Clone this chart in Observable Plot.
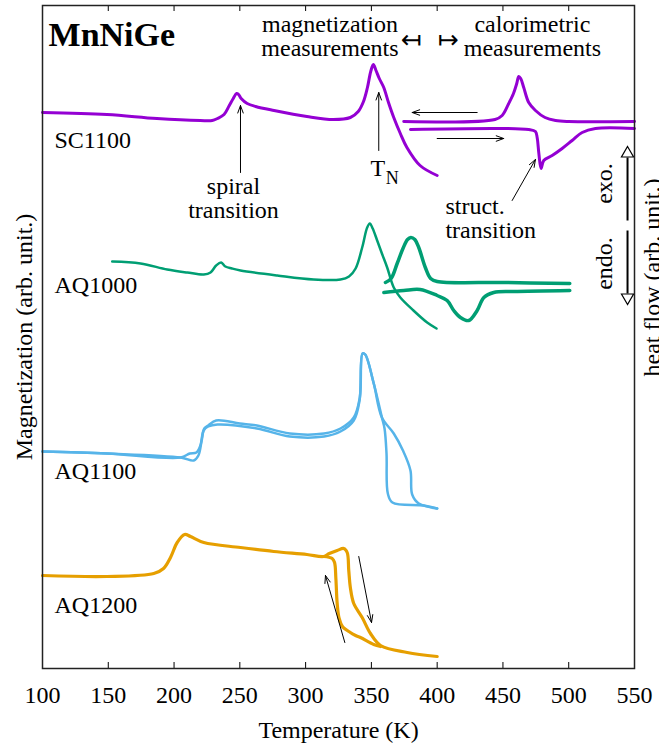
<!DOCTYPE html>
<html>
<head>
<meta charset="utf-8">
<script src="https://cdn.jsdelivr.net/npm/d3@7"></script>
<script src="https://cdn.jsdelivr.net/npm/@observablehq/plot@0.6"></script>
<style>
  body { margin: 0; background: #fff; }
</style>
</head>
<body>
<div id="chart"></div>
<script>
// ---------- data (temperature in K, magnetization / heat flow in arb. units) ----------
const xTicks = [100, 150, 200, 250, 300, 350, 400, 450, 500, 550];

// SC1100 magnetization
const sc1100T = [100, 149, 187, 220, 229, 233, 238, 242, 245, 247.5, 249, 251, 255.6, 262, 276, 301, 321, 334, 340, 344, 347, 349.5, 351.5, 353.5, 356, 359.4, 363, 367, 372, 377, 387, 400];
const sc1100M = [556, 554, 550, 548, 548, 550, 554, 563, 570, 575, 574, 570, 565, 562, 558, 552, 549, 551, 557, 567, 581, 597, 604, 598, 590, 581, 566, 551, 535, 521, 503, 493];
// SC1100 calorimetric (cooling / heating)
const sc1100CoolT = [374.6, 444, 449.4, 454.4, 458, 460.5, 462, 463.5, 465.8, 469.6, 474.7, 482, 490, 500, 550];
const sc1100CoolH = [547, 549, 553, 565, 575, 585, 592, 590, 581, 566, 558, 551, 548, 547, 547];
const sc1100HeatT = [379.7, 469.6, 474.7, 476, 477.3, 479, 481, 487.4, 495, 502.6, 510.2, 520.3, 550];
const sc1100HeatH = [539, 539, 537, 531, 515, 500, 508, 513, 520, 528, 536, 540, 540];

// AQ1000 magnetization
const aq1000T = [153, 174.5, 194.8, 210, 222.6, 227.7, 232, 235.8, 239, 244, 250.5, 278.4, 306, 326.5, 333, 338, 343, 346.8, 348.8, 351, 354.4, 358, 362, 367, 372, 382, 392.4, 399.5];
const aq1000M = [407, 405, 399, 396, 394, 396, 403, 406, 402, 400, 398, 393, 389, 389, 392, 400, 421, 441, 445, 440, 428, 415, 401, 381, 371, 358, 346, 340];
// AQ1000 calorimetric
const aq1000UpT = [360.7, 365, 369.6, 374, 377.5, 380, 383, 386, 391, 395, 400, 450, 500.8];
const aq1000UpH = [386, 390, 405, 420, 429, 431, 429, 421, 401, 390, 387, 386, 385];
const aq1000DnT = [359.5, 374.6, 387, 400, 407.6, 412.6, 417.7, 424, 430.4, 435.5, 443, 458, 500.8];
const aq1000DnH = [376, 378, 379, 373, 368, 358, 351, 348, 358, 371, 376, 377, 378];

// AQ1100 magnetization (heating / cooling)
const aq1100HeatT = [100, 149, 205, 215, 218.5, 221, 223, 226, 232, 250, 263, 288, 314, 326.5, 336.6, 341.2, 343.3, 345.3, 351.8, 358, 367, 374, 379.7, 381, 386, 400];
const aq1100HeatM = [217, 215, 211, 208, 213, 228, 240, 243, 248, 245, 243, 235, 235, 240, 251, 271, 315, 314, 285, 251, 235, 218, 198, 174, 165, 160];
const aq1100CoolT = [400, 390, 366, 362.5, 361.5, 360, 358, 351.8, 345.3, 343.3, 341, 336.6, 326.5, 314, 288, 263, 233, 226, 222.5, 220, 217, 212, 205, 149, 100];
const aq1100CoolM = [160, 163, 166, 175, 215, 240, 251, 285, 314, 315, 268, 248, 237, 232, 232, 240, 244, 242, 238, 223, 216, 215, 211, 215, 217];

// AQ1200 magnetization (heating / cooling)
const aq1200HeatT = [100, 149, 184.6, 192, 197.3, 202.4, 208, 212.5, 222.6, 250.5, 275.8, 301, 313.8, 318, 324, 329, 331.6, 332.8, 334, 336.6, 343, 349.3, 357, 377.2, 400];
const aq1200HeatM = [93, 92, 95, 100, 111, 126, 134, 132, 126, 121, 117, 114, 112, 115, 118, 120, 116, 98, 81, 65, 51, 35, 23, 16, 12];
const aq1200CoolT = [313.8, 320.2, 322, 323, 324, 325.5, 328, 334, 338, 341.7, 351.8, 357];
const aq1200CoolM = [112, 110, 106, 90, 65, 50, 42, 36, 33, 31, 24, 22];

// annotation arrows (x1, y1) -> (x2, y2)
const arrowX1 = [250.5, 355.6, 457, 430.4, 400, 329.8, 340.4];
const arrowY1 = [496, 518, 468, 556, 530, 26, 112];
const arrowX2 = [250.5, 355.6, 474.7, 381, 450.6, 315.1, 350.1];
const arrowY2 = [563, 576, 509, 556, 530, 93, 46];

// sample labels
const sampleNames = ["SC1100", "AQ1000", "AQ1100", "AQ1200"];
const sampleT = [109.1, 109.1, 109.1, 109.1];
const sampleM = [521, 376, 190, 56];

// colours
const cPurple = "#9400d3", cGreen = "#009e73", cBlue = "#56b4e9", cOrange = "#e69f00";
const SERIF = '"Liberation Serif", "Times New Roman", Times, serif';

// ---------- build ----------
const zip = (T, V) => T.map((t, i) => ({t, v: V[i]}));
const arrows = arrowX1.map((x1, i) => ({x1, y1: arrowY1[i], x2: arrowX2[i], y2: arrowY2[i]}));
const samples = sampleNames.map((n, i) => ({n, t: sampleT[i], v: sampleM[i]}));
const line = (T, V, stroke, w) => Plot.line(zip(T, V), {x: "t", y: "v", stroke, strokeWidth: w, curve: "catmull-rom", strokeLinejoin: "round", strokeLinecap: "round"});
const txt = (s, x, y, o = {}) => Plot.text([s], {x: [x], y: [y], text: d => d, fontSize: 24, fontFamily: SERIF, lineAnchor: "bottom", ...o});

const FH = 663; // frame height in px, used for the short inward ticks

const chart = Plot.plot({
  width: 659,
  height: 746,
  marginLeft: 42,
  marginRight: 25,
  marginTop: 5,
  marginBottom: 78,
  x: {domain: [100, 550]},
  y: {domain: [0, 663], axis: null},
  style: {fontFamily: SERIF, fontSize: "24px", color: "black", background: "white", overflow: "visible"},
  marks: [
    // curves
    line(sc1100T, sc1100M, cPurple, 3),
    line(sc1100CoolT, sc1100CoolH, cPurple, 3),
    line(sc1100HeatT, sc1100HeatH, cPurple, 3),
    line(aq1000T, aq1000M, cGreen, 2.5),
    line(aq1000UpT, aq1000UpH, cGreen, 3.5),
    line(aq1000DnT, aq1000DnH, cGreen, 3.5),
    line(aq1100HeatT, aq1100HeatM, cBlue, 2.5),
    line(aq1100CoolT, aq1100CoolM, cBlue, 2.5),
    line(aq1200HeatT, aq1200HeatM, cOrange, 3.2),
    line(aq1200CoolT, aq1200CoolM, cOrange, 3.2),
    // arrows
    Plot.arrow(arrows, {x1: "x1", y1: "y1", x2: "x2", y2: "y2", stroke: "black", strokeWidth: 1, headLength: 12, headAngle: 40}),
    // exo / endo heat-flow arrows
    Plot.link([0], {x1: [544.7], x2: [544.7], y1: [448], y2: [511], stroke: "black", strokeWidth: 2}),
    Plot.link([0], {x1: [544.7], x2: [544.7], y1: [438], y2: [375], stroke: "black", strokeWidth: 2}),
    Plot.dot([0, 1], {x: [544.7, 544.7], y: [515, 371], symbol: "triangle", rotate: [0, 180], r: 4.5, fill: "white", stroke: "black", strokeWidth: 1.2}),
    // texts
    txt("MnNiGe", 104.6, 623, {textAnchor: "start", fontSize: 34, fontWeight: "bold"}),
    txt("magnetization\nmeasurements", 318.5, 613, {textAnchor: "middle", lineHeight: 1}),
    txt("calorimetric\nmeasurements", 472.4, 613, {textAnchor: "middle", lineHeight: 1}),
    txt("↤  ↦", 394.5, 629, {textAnchor: "middle", lineAnchor: "middle", fontSize: 25, fontFamily: "DejaVu Sans"}),
    txt("spiral\ntransition", 245.2, 451, {textAnchor: "middle", lineHeight: 1}),
    txt("T", 349.3, 493, {textAnchor: "start"}),
    txt("N", 361, 485, {textAnchor: "start", fontSize: 18}),
    txt("struct.\ntransition", 406.3, 431, {textAnchor: "start", lineHeight: 1}),
    txt("exo.", 527.3, 485, {textAnchor: "middle", lineAnchor: "middle", rotate: -90}),
    txt("endo.", 527.3, 405, {textAnchor: "middle", lineAnchor: "middle", rotate: -90}),
    Plot.text(samples, {x: "t", y: "v", text: "n", fontSize: 24, fontFamily: SERIF, textAnchor: "start", lineAnchor: "bottom"}),
    // axis labels
    Plot.text(["Magnetization (arb. unit.)"], {frameAnchor: "left", dx: -17.7, text: d => d, rotate: -90, fontSize: 24, fontFamily: SERIF, textAnchor: "middle", lineAnchor: "middle"}),
    Plot.text(["heat flow (arb. unit.)"], {frameAnchor: "right", y: [391], dx: 18.3, text: d => d, rotate: -90, fontSize: 24, fontFamily: SERIF, textAnchor: "middle", lineAnchor: "middle"}),
    Plot.text(["Temperature (K)"], {frameAnchor: "bottom", dy: 62, text: d => d, fontSize: 24, fontFamily: SERIF, textAnchor: "middle", lineAnchor: "middle"}),
    // inward ticks, bottom and top
    Plot.tickX(xTicks, {x: d => d, insetTop: FH - 6, stroke: "black", strokeWidth: 1}),
    Plot.tickX(xTicks, {x: d => d, insetBottom: FH - 6, stroke: "black", strokeWidth: 1}),
    Plot.axisX(xTicks, {anchor: "bottom", tickSize: 0, tickPadding: 17, fontSize: 24, fontFamily: SERIF, label: null}),
    Plot.frame({stroke: "#222", strokeWidth: 1.5})
  ]
});
document.getElementById("chart").appendChild(chart);
</script>
</body>
</html>
